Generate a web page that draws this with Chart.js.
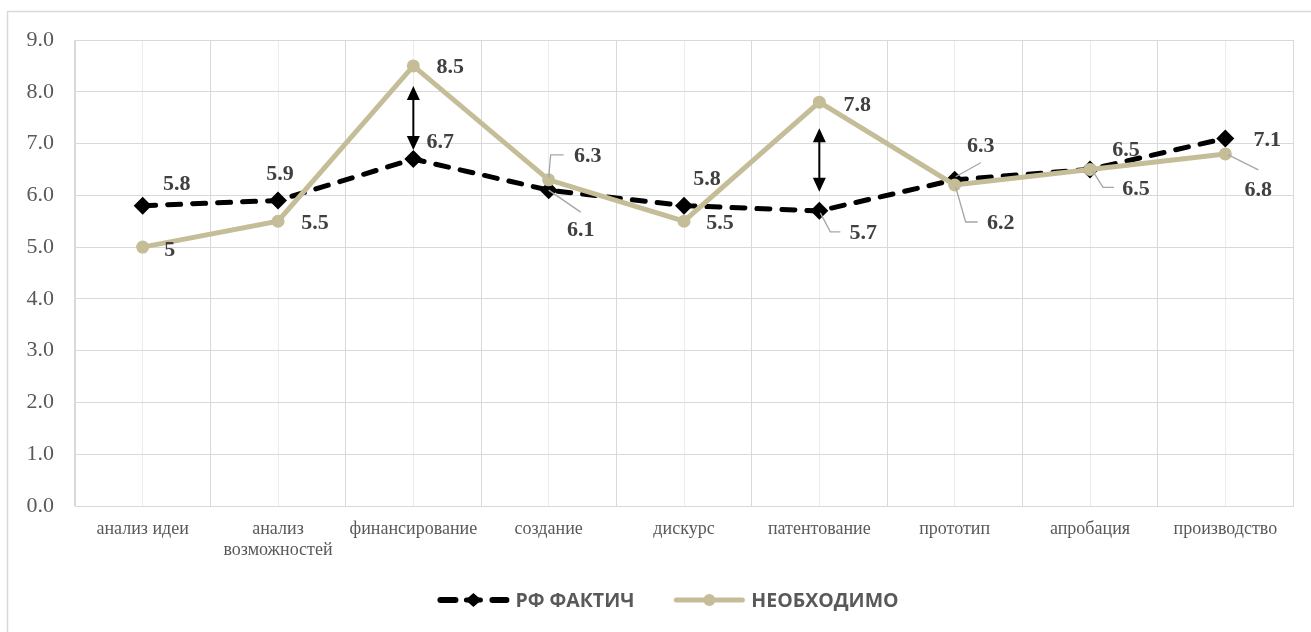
<!DOCTYPE html>
<html>
<head>
<meta charset="utf-8">
<script src="https://cdn.jsdelivr.net/npm/chart.js@4.4.1/dist/chart.umd.min.js"></script>
<style>
  html, body { margin: 0; padding: 0; background: #ffffff; }
  #wrap { position: relative; width: 1311px; height: 632px; }
</style>
</head>
<body>
<div id="wrap"><canvas id="c" width="1311" height="632"></canvas></div>
<script>
// Stages of the innovation cycle
const categories = [
  'анализ идеи', ['анализ', 'возможностей'], 'финансирование', 'создание',
  'дискурс', 'патентование', 'прототип', 'апробация', 'производство'
];
// Series values
const factValues = [5.8, 5.9, 6.7, 6.1, 5.8, 5.7, 6.3, 6.5, 7.1];
const needValues = [5, 5.5, 8.5, 6.3, 5.5, 7.8, 6.2, 6.5, 6.8];
const seriesNames = ['РФ ФАКТИЧ', 'НЕОБХОДИМО'];
// Value axis
const yMin = 0, yMax = 9, yStep = 1;
// Stages where the gap between the two series is marked with a double arrow
const gapStages = [2, 5];

// Label placement (pixel offsets from the point), leader lines, arrow insets
const factLabelOffsets = [[34,-21],[2,-26],[27,-17],[32,40],[23,-26],[44,22],[26,-33],[36,-19],[42,2]];
const needLabelOffsets = [[27,3],[37,2],[37,1],[39,-23],[36,2],[38,3],[46,38],[46,20],[33,36]];
const factLeaders = { 3: [[0,0],[32,22]], 5: [[1,2],[11,21],[21,21]], 6: [[1,-3],[26,-17]] };
const needLeaders = { 3: [[0,-2],[2,-25],[15,-25]], 6: [[1,2],[11,37],[23,37]], 7: [[3,2],[13,18],[24,18]], 8: [[3,1],[33,16]] };
const arrowInsets = { 2: [20, 9], 5: [26, 19] };

const BLACK = '#000000';
const TAN = '#c4bd97';
const GRID = '#d9d9d9';
const GRID_LIGHT = '#ececec';
const TICK_TEXT = '#595959';
const LABEL_TEXT = '#404040';
const SERIF = '"Liberation Serif", "Times New Roman", serif';

const framePlugin = {
  id: 'frame',
  beforeDraw(chart) {
    const ctx = chart.ctx;
    ctx.save();
    ctx.fillStyle = '#ffffff';
    ctx.fillRect(0, 0, chart.width, chart.height);
    ctx.strokeStyle = GRID;
    ctx.lineWidth = 1.5;
    ctx.beginPath();
    ctx.moveTo(7.5, chart.height + 5);
    ctx.lineTo(7.5, 11.5);
    ctx.lineTo(chart.width + 5, 11.5);
    ctx.stroke();
    ctx.restore();
  }
};

function drawArrowHead(ctx, x, y, dir) {
  // dir = -1 points up, +1 points down
  ctx.beginPath();
  ctx.moveTo(x, y);
  ctx.lineTo(x - 6.5, y - dir * 14);
  ctx.lineTo(x + 6.5, y - dir * 14);
  ctx.closePath();
  ctx.fill();
}

const annotatePlugin = {
  id: 'annotate',
  afterDatasetsDraw(chart) {
    const ctx = chart.ctx;
    const xs = chart.scales.x, ys = chart.scales.y;
    ctx.save();

    // gap arrows
    ctx.strokeStyle = BLACK;
    ctx.fillStyle = BLACK;
    ctx.lineWidth = 2;
    gapStages.forEach(i => {
      const x = xs.getPixelForValue(i);
      const top = ys.getPixelForValue(needValues[i]) + arrowInsets[i][0];
      const bot = ys.getPixelForValue(factValues[i]) - arrowInsets[i][1];
      ctx.beginPath();
      ctx.moveTo(x, top + 10);
      ctx.lineTo(x, bot - 10);
      ctx.stroke();
      drawArrowHead(ctx, x, top, -1);
      drawArrowHead(ctx, x, bot, 1);
    });

    const series = [
      { values: factValues, offsets: factLabelOffsets, leaders: factLeaders },
      { values: needValues, offsets: needLabelOffsets, leaders: needLeaders }
    ];

    // leader lines
    ctx.strokeStyle = '#a6a6a6';
    ctx.lineWidth = 1.3;
    series.forEach(s => {
      Object.keys(s.leaders).forEach(k => {
        const i = +k;
        const px = xs.getPixelForValue(i), py = ys.getPixelForValue(s.values[i]);
        const pts = s.leaders[k];
        ctx.beginPath();
        pts.forEach((p, j) => {
          if (j === 0) ctx.moveTo(px + p[0], py + p[1]);
          else ctx.lineTo(px + p[0], py + p[1]);
        });
        ctx.stroke();
      });
    });

    // value labels
    ctx.font = 'bold 22px ' + SERIF;
    ctx.fillStyle = LABEL_TEXT;
    ctx.textAlign = 'center';
    ctx.textBaseline = 'middle';
    series.forEach(s => {
      s.values.forEach((v, i) => {
        const px = xs.getPixelForValue(i), py = ys.getPixelForValue(v);
        ctx.fillText(String(v), px + s.offsets[i][0], py + s.offsets[i][1]);
      });
    });
    ctx.restore();
  }
};

const legendPlugin = {
  id: 'customLegend',
  afterDraw(chart) {
    const ctx = chart.ctx;
    ctx.save();
    ctx.font = 'bold 19.5px "Open Sans", sans-serif';
    ctx.textBaseline = 'middle';
    ctx.textAlign = 'left';
    const w1 = ctx.measureText(seriesNames[0]).width;
    const w2 = ctx.measureText(seriesNames[1]).width;
    const sample = 72, gapText = 6, gapItems = 39;
    const total = sample + gapText + w1 + gapItems + sample + gapText + w2;
    const cy = 600;
    let x = 668 - total / 2;

    // dashed sample with a diamond
    ctx.strokeStyle = BLACK;
    ctx.fillStyle = BLACK;
    ctx.lineWidth = 6;
    ctx.lineCap = 'round';
    ctx.beginPath();
    ctx.moveTo(x + 3, cy); ctx.lineTo(x + 18, cy);
    ctx.moveTo(x + 55, cy); ctx.lineTo(x + 69, cy);
    ctx.stroke();
    ctx.beginPath();
    ctx.moveTo(x + 36, cy - 7);
    ctx.lineTo(x + 44, cy);
    ctx.lineTo(x + 36, cy + 7);
    ctx.lineTo(x + 28, cy);
    ctx.closePath();
    ctx.fill();
    ctx.lineWidth = 5;
    ctx.beginPath();
    ctx.moveTo(x + 29, cy); ctx.lineTo(x + 43, cy);
    ctx.stroke();
    x += sample + gapText;
    ctx.fillStyle = TICK_TEXT;
    ctx.fillText(seriesNames[0], x, cy + 1);
    x += w1 + gapItems;

    // solid sample with a circle
    ctx.strokeStyle = TAN;
    ctx.fillStyle = TAN;
    ctx.lineWidth = 5;
    ctx.beginPath();
    ctx.moveTo(x + 3, cy); ctx.lineTo(x + 69, cy);
    ctx.stroke();
    ctx.beginPath();
    ctx.arc(x + 36, cy, 6, 0, Math.PI * 2);
    ctx.fill();
    x += sample + gapText;
    ctx.fillStyle = TICK_TEXT;
    ctx.fillText(seriesNames[1], x, cy + 1);
    ctx.restore();
  }
};

new Chart(document.getElementById('c'), {
  type: 'line',
  data: {
    labels: categories,
    datasets: [
      {
        label: seriesNames[0],
        data: factValues,
        borderColor: BLACK,
        backgroundColor: BLACK,
        borderWidth: 5,
        borderDash: [13, 12],
        borderCapStyle: 'round',
        tension: 0,
        pointStyle: 'rectRot',
        pointRadius: 9,
        pointBorderWidth: 0,
        pointBackgroundColor: BLACK,
        order: 2
      },
      {
        label: seriesNames[1],
        data: needValues,
        borderColor: TAN,
        backgroundColor: TAN,
        borderWidth: 5,
        tension: 0,
        pointStyle: 'circle',
        pointRadius: 6.5,
        pointBorderWidth: 0,
        pointBackgroundColor: TAN,
        order: 1
      }
    ]
  },
  options: {
    responsive: false,
    animation: false,
    devicePixelRatio: 1,
    layout: { padding: { left: 20, right: 18, top: 40, bottom: 56 } },
    plugins: {
      legend: { display: false },
      tooltip: { enabled: false }
    },
    scales: {
      x: {
        type: 'category',
        position: 'bottom',
        offset: true,
        grid: { offset: true, color: GRID, lineWidth: 1, drawTicks: false },
        border: { color: GRID, width: 1 },
        ticks: {
          color: TICK_TEXT,
          font: { family: SERIF, size: 18, lineHeight: 1.2 },
          padding: 12,
          maxRotation: 0,
          minRotation: 0,
          autoSkip: false
        },
        afterFit(scale) { scale.height = 70; }
      },
      xc: {
        type: 'category',
        position: 'top',
        offset: true,
        labels: categories,
        grid: { offset: false, color: GRID_LIGHT, lineWidth: 1, drawTicks: false },
        border: { display: false },
        ticks: { display: false },
        afterFit(scale) { scale.height = 0; }
      },
      y: {
        min: yMin,
        max: yMax,
        grid: { color: GRID, lineWidth: 1, drawTicks: false },
        border: { color: GRID, width: 1 },
        ticks: {
          stepSize: yStep,
          color: TICK_TEXT,
          font: { family: SERIF, size: 22 },
          padding: 21,
          callback: v => Number(v).toFixed(1)
        },
        afterFit(scale) { scale.width = 55; }
      }
    }
  },
  plugins: [framePlugin, annotatePlugin, legendPlugin]
});
</script>
</body>
</html>
